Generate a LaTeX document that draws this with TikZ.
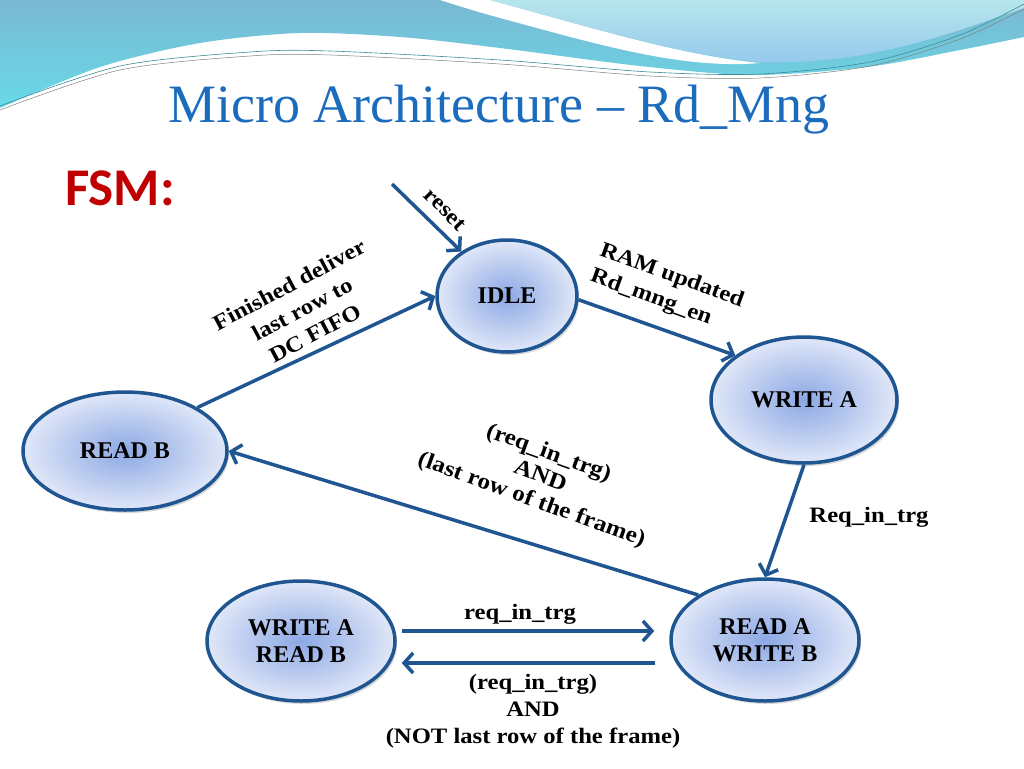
\documentclass[tikz,border=0pt]{standalone}
\usepackage{fontspec}
\setmainfont{Liberation Serif}
\newfontfamily\calibfont{Carlito}
\newfontfamily\lblfont{Liberation Serif}[FakeStretch=1.12]
\usetikzlibrary{arrows.meta,shapes.geometric,shadows}
\definecolor{arrowblue}{RGB}{31,86,146}
\definecolor{titleblue}{RGB}{28,108,190}
\definecolor{fsmred}{RGB}{192,0,0}
\definecolor{ellin}{RGB}{140,168,228}
\definecolor{ellout}{RGB}{224,231,248}
\definecolor{tealtop}{RGB}{122,184,210}
\definecolor{tealbot}{RGB}{104,218,232}
\definecolor{blobtop}{RGB}{182,230,236}
\definecolor{blobbot}{RGB}{148,200,236}
\definecolor{wavelin}{RGB}{60,140,150}
\begin{document}
\begin{tikzpicture}[x=1pt,y=-1pt,
  state/.style={ellipse, draw=arrowblue, line width=3.5pt, inner color=ellin, outer color=ellout,
    inner sep=0pt, font=\fontsize{24}{27}\selectfont\bfseries, align=center,
    drop shadow={shadow xshift=2pt, shadow yshift=-3pt, opacity=0.3}},
  conn/.style={draw=arrowblue, line width=3.5pt, -{Straight Barb[length=9pt,width=20pt]}},
  lbl/.style={font=\lblfont\fontsize{22}{26}\selectfont\bfseries, align=center, inner sep=0pt}]
\useasboundingbox (0,0) rectangle (1024,768);
\fill[white] (0,0) rectangle (1024,768);
% banner
\shade[top color=tealtop, bottom color=tealbot]
  (1024,0) -- (0,0) -- plot[smooth] coordinates {(0,108) (100,67) (200,43) (300,33) (400,37) (500,48) (640,66) (753,75) (867,67) (960,50) (1024,37)} -- cycle;
\fill[white] (440,0) -- (490,0) .. controls (600,30) and (680,55) .. (760,63)
  .. controls (680,70) and (590,42) .. (500,18) .. controls (475,11) .. (440,0) -- cycle;
\shade[top color=blobtop, bottom color=blobbot]
  (490,0) .. controls (600,30) and (680,55) .. (760,62) .. controls (870,66) and (960,30) .. (1024,8) -- (1024,0) -- cycle;
\draw[wavelin, line width=0.6pt] plot[smooth] coordinates {(0,106) (120,66) (250,52) (330,51) (500,60) (650,72) (760,74) (870,62) (960,35) (1024,4)};
\draw[gray, line width=0.5pt] plot[smooth] coordinates {(0,110) (120,70) (250,56) (330,55) (500,64) (650,76) (760,78) (870,66) (960,39) (1024,9)};
% title
\node[anchor=base, text=titleblue, font=\fontsize{54}{56}\selectfont, inner sep=0pt] (title) at (499,122) {Micro Architecture -- Rd\_Mng};
\node[anchor=base, text=fsmred, font=\calibfont\fontsize{53}{55}\selectfont\bfseries, inner sep=0pt] (fsm) at (120,205) {FSM:};
% states
\node[state, minimum width=140pt, minimum height=112pt] (idle) at (507,296) {IDLE};
\node[state, minimum width=186pt, minimum height=126pt] (wa) at (804,400) {WRITE A};
\node[state, minimum width=204pt, minimum height=118pt] (rb) at (125,451) {READ B};
\node[state, minimum width=188pt, minimum height=120pt] (warb) at (301,641) {WRITE A\\READ B};
\node[state, minimum width=188pt, minimum height=122pt] (rawb) at (765,640) {READ A\\WRITE B};
% connectors
\coordinate (rs) at (392,184);
\draw[conn] (rs) -- (idle);
\draw[conn] (rb.31) -- (idle.180);
\draw[conn] (idle.-3) -- (wa.147);
\draw[conn] (wa.south) -- (rawb.north);
\draw[conn] (rawb.146) -- (rb.east);
\draw[conn] ([shift={(5,-10)}]warb.east) -- ([shift={(-15,-9)}]rawb.west);
\draw[conn] ([shift={(-14,23)}]rawb.west) -- ([shift={(5,22)}]warb.east);
% labels
\node[lbl, rotate=-45] (lreset) at (445,210) {reset};
\node[lbl, rotate=28, font=\lblfont\fontsize{22}{27.5}\selectfont\bfseries] (lfin) at (302,309) {Finished deliver\\last row to\\DC FIFO};
\node[lbl, rotate=-20, align=left, font=\lblfont\fontsize{22}{27.5}\selectfont\bfseries] (lram) at (667,289) {RAM updated\\Rd\_mng\_en};
\node[lbl, rotate=-20, font=\lblfont\fontsize{22.5}{25}\selectfont\bfseries] (llast) at (540,477) {(req\_in\_trg)\\AND\\(last row of the frame)};
\node[lbl] (lreq) at (869,517) {Req\_in\_trg};
\node[lbl] (ltop) at (520,614) {req\_in\_trg};
\node[lbl, font=\lblfont\fontsize{22}{27}\selectfont\bfseries] (lnot) at (533,711) {(req\_in\_trg)\\AND\\(NOT last row of the frame)};
\end{tikzpicture}
\end{document}
